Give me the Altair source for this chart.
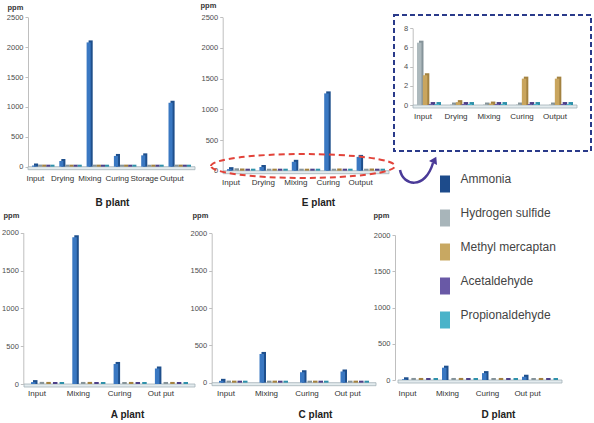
import altair as alt
import pandas as pd

# ---------------------------------------------------------------- data
compounds = ["Ammonia", "Hydrogen sulfide", "Methyl mercaptan",
             "Acetaldehyde", "Propionaldehyde"]
face_colors = ["#3a78c2", "#adb9bd", "#c9a55e", "#6a5aa8", "#49b2ca"]
side_colors = ["#1e4f8c", "#86949a", "#a38240", "#4d4088", "#2f91aa"]
legend_colors = ["#1d4b8b", "#a8b5ba", "#c8a862", "#6959a6", "#4ab3c9"]

ticks_large = [0, 500, 1000, 1500, 2000, 2500]
ticks_mid = [0, 500, 1000, 1500, 2000]
ticks_small = [0, 2, 4, 6, 8]

# B plant
b_stages = ["Input", "Drying", "Mixing", "Curing", "Storage", "Output"]
b_ammonia = [20, 95, 2080, 180, 190, 1070]
b_hydrogen_sulfide = [2.0, 0.4, 0.8, 0.5, 0.4, 0.9]
b_methyl_mercaptan = [1.5, 0.5, 1.0, 1.2, 0.6, 1.1]
b_acetaldehyde = [0.3, 0.2, 0.2, 0.2, 0.2, 0.3]
b_propionaldehyde = [0.2, 0.1, 0.1, 0.1, 0.1, 0.2]

# E plant
e_stages = ["Input", "Drying", "Mixing", "Curing", "Output"]
e_ammonia = [25, 60, 145, 1260, 225]
e_hydrogen_sulfide = [6.5, 0.05, 0.05, 0.05, 0.05]
e_methyl_mercaptan = [3.1, 0.3, 0.15, 2.75, 2.75]
e_acetaldehyde = [0.1, 0.1, 0.1, 0.1, 0.1]
e_propionaldehyde = [0.1, 0.1, 0.1, 0.1, 0.1]

# A plant
a_stages = ["Input", "Mixing", "Curing", "Out put"]
a_ammonia = [25, 1940, 265, 205]
a_hydrogen_sulfide = [1.5, 0.8, 0.4, 0.5]
a_methyl_mercaptan = [1.0, 1.2, 0.9, 0.8]
a_acetaldehyde = [0.3, 0.2, 0.2, 0.2]
a_propionaldehyde = [0.2, 0.1, 0.1, 0.1]

# C plant
c_stages = ["Input", "Mixing", "Curing", "Out put"]
c_ammonia = [25, 385, 140, 150]
c_hydrogen_sulfide = [1.2, 0.6, 0.3, 0.4]
c_methyl_mercaptan = [0.9, 1.0, 0.7, 0.8]
c_acetaldehyde = [0.3, 0.2, 0.2, 0.2]
c_propionaldehyde = [0.2, 0.1, 0.1, 0.1]

# D plant
d_stages = ["Input", "Mixing", "Curing", "Out put"]
d_ammonia = [10, 170, 95, 45]
d_hydrogen_sulfide = [0.8, 0.5, 0.3, 0.3]
d_methyl_mercaptan = [0.6, 0.9, 0.6, 0.5]
d_acetaldehyde = [0.2, 0.2, 0.1, 0.1]
d_propionaldehyde = [0.1, 0.1, 0.1, 0.1]

# ---------------------------------------------------------------- layout
# grid cells in page pixels
GRID_LEFT = [20, 211, 393]
GRID_WIDTH = [191, 182, 201]
GRID_TOP = [14, 232]
GRID_HEIGHT = [218, 191]
DEPTH = 2      # pseudo-3D depth of the bar side faces
BAR = 4.5      # front face width of a bar
FLOOR = 3      # thickness of the floor strip

FACE = dict(zip(compounds, face_colors))
SIDE = dict(zip(compounds, side_colors))

ELLIPSE = ("M-1,0C-1,-0.0718 -0.5523,-0.13 0,-0.13C0.5523,-0.13 1,-0.0718 1,0"
           "C1,0.0718 0.5523,0.13 0,0.13C-0.5523,0.13 -1,0.0718 -1,0Z")
ARROW_CURVE = "M-0.944,-0.111C-0.778,0.778 0.444,1.0 0.889,-0.5"
ARROW_HEAD = "M1.072,-0.844L1.111,-0.383L0.667,-0.617Z"
SWATCH = "M-0.59,-1L0.59,-1L0.59,1L-0.59,1Z"

one_row = pd.DataFrame({"ppm": [0]})


def long_table(stages, names, series):
    rows = [{"stage": s, "compound": c, "ppm": v}
            for c, values in zip(names, series)
            for s, v in zip(stages, values)]
    return pd.DataFrame(rows)


def plant_panel(stages, names, series, cell, frame, ymax, ticks, labels,
                ppm=None, title=None, extras=()):
    col, row = cell
    ox, oy = GRID_LEFT[col], GRID_TOP[row]
    W, H = GRID_WIDTH[col], GRID_HEIGHT[row]
    axis_x, r0, r1, step, first, y0, ytop = frame
    label_shift, label_pad = labels
    n, m = len(stages), len(names)
    po = (first - r0) / step
    pi = n + 2 * po - (r1 - r0) / step
    bw = step * (1 - pi)
    bar = min(BAR, bw / m)
    p_off = max(0.0, (bw - bar * m) / (bw - bar))

    x_front = alt.Scale(domain=stages, range=[r0 - ox, r1 - ox],
                        paddingInner=pi, paddingOuter=po)
    x_back = alt.Scale(domain=stages, range=[r0 - ox + DEPTH, r1 - ox + DEPTH],
                       paddingInner=pi, paddingOuter=po)
    x_off = alt.Scale(domain=names, range=[0, bw], paddingInner=p_off,
                      paddingOuter=0)
    y_sc = alt.Scale(domain=[0, ymax], range=[y0 - oy, ytop - oy],
                     nice=False, zero=True)

    if ppm is not None:
        ppm_kw = dict(title="ppm", titleAngle=0, titleX=ppm[0] - axis_x,
                      titleY=ppm[1] - oy, titleAlign="left",
                      titleBaseline="middle", titleFontSize=7.5,
                      titleFontWeight="bold", titleColor="#333333")
    else:
        ppm_kw = dict(title=None)
    if title is not None:
        title_kw = dict(title=title[0], titleX=title[1] - ox,
                        titleY=title[2] - y0, titleAlign="center",
                        titleBaseline="middle", titleFontSize=10,
                        titleFontWeight="bold", titleColor="#222222")
    else:
        title_kw = dict(title=None)

    y_axis = alt.Axis(values=ticks, format="d", orient="left",
                      offset=ox - axis_x, grid=False,
                      domainColor="#bfbfbf", tickColor="#bfbfbf", tickSize=3,
                      labelFontSize=7.5, labelColor="#4d4d4d", labelPadding=2,
                      **ppm_kw)
    x_axis = alt.Axis(orient="bottom", offset=(y0 - oy) - H, domain=False,
                      ticks=False, labelAngle=0, labelOverlap=False,
                      labelFontSize=8, labelColor="#333333",
                      labelPadding=label_pad, labelOffset=label_shift - bw / 2,
                      **title_kw)

    df = long_table(stages, names, series)
    floor = alt.Chart(one_row).mark_rect(
        fill="#e3ebee", stroke="#a3b1b8", strokeWidth=0.8
    ).encode(
        x=alt.value(r0 - ox), x2=alt.value(r1 - ox + DEPTH),
        y=alt.Y("ppm:Q", scale=y_sc, axis=None),
        y2=alt.value(y0 - oy + FLOOR),
    )
    # side/top faces: shifted right and up, still standing on the floor
    back = alt.Chart(df).mark_bar(yOffset=-DEPTH, y2Offset=0).encode(
        x=alt.X("stage:N", scale=x_back, axis=None),
        xOffset=alt.XOffset("compound:N", scale=x_off),
        y=alt.Y("ppm:Q", scale=y_sc, axis=None),
        y2=alt.datum(0),
        fill=alt.Fill("compound:N", legend=None,
                      scale=alt.Scale(domain=names,
                                      range=[SIDE[c] for c in names])),
    )
    front = alt.Chart(df).mark_bar().encode(
        x=alt.X("stage:N", scale=x_front, axis=x_axis),
        xOffset=alt.XOffset("compound:N", scale=x_off),
        y=alt.Y("ppm:Q", scale=y_sc, axis=y_axis),
        color=alt.Color("compound:N", legend=None,
                        scale=alt.Scale(domain=names,
                                        range=[FACE[c] for c in names])),
    )
    return alt.layer(floor, back, front, *extras).resolve_scale(
        x="independent", y="independent", xOffset="independent",
        color="independent", fill="independent",
    ).properties(width=W, height=H)


# ---------------------------------------------------------------- overlays
# red dashed ellipse around the E plant floor and the curved arrow
e_ox, e_oy = GRID_LEFT[1], GRID_TOP[0]
ellipse = alt.Chart(one_row).mark_point(
    shape=ELLIPSE, size=184 ** 2, filled=False, opacity=1,
    stroke="#e2433a", strokeWidth=2, strokeDash=[6, 4],
).encode(x=alt.value(303 - e_ox), y=alt.value(166 - e_oy))
arrow_curve = alt.Chart(one_row).mark_point(
    shape=ARROW_CURVE, size=36 ** 2, filled=False, opacity=1,
    stroke="#4a3a98", strokeWidth=2.5,
).encode(x=alt.value(417 - e_ox), y=alt.value(172 - e_oy))
arrow_head = alt.Chart(one_row).mark_point(
    shape=ARROW_HEAD, size=36 ** 2, filled=True, opacity=1,
    fill="#4a3a98", strokeWidth=0,
).encode(x=alt.value(417 - e_ox), y=alt.value(172 - e_oy))

# dashed frame of the enlarged view
i_ox, i_oy = GRID_LEFT[2], GRID_TOP[0]
inset_box = alt.Chart(one_row).mark_rect(
    fillOpacity=0, stroke="#2a3a8a", strokeWidth=2, strokeDash=[5, 3],
).encode(x=alt.value(394 - i_ox), x2=alt.value(591 - i_ox),
         y=alt.value(15 - i_oy), y2=alt.value(151 - i_oy))

# compound key
d_ox, d_oy = GRID_LEFT[2], GRID_TOP[1]
legend_df = pd.DataFrame({"compound": compounds})
legend_y = alt.Y("compound:N", axis=None,
                 scale=alt.Scale(type="point", domain=compounds,
                                 range=[184 - d_oy, 320 - d_oy], padding=0))
legend_swatch = alt.Chart(legend_df).mark_point(
    shape=SWATCH, size=17 ** 2, filled=True, opacity=1, strokeWidth=0,
).encode(
    x=alt.value(445 - d_ox), y=legend_y,
    color=alt.Color("compound:N", legend=None,
                    scale=alt.Scale(domain=compounds, range=legend_colors)),
)
legend_text = alt.Chart(legend_df).mark_text(
    align="left", baseline="middle", dy=-5.5, fontSize=12, color="#444444",
).encode(x=alt.value(460.5 - d_ox), y=legend_y, text="compound:N")

# ---------------------------------------------------------------- panels
panel_b = plant_panel(
    b_stages, compounds,
    [b_ammonia, b_hydrogen_sulfide, b_methyl_mercaptan, b_acetaldehyde,
     b_propionaldehyde],
    (0, 0), (28, 28, 193, 27.3, 32, 166.7, 17.3), 2500, ticks_large,
    (3.3, 8), ppm=(7, 7), title=("B plant", 112, 202))

panel_e = plant_panel(
    e_stages, compounds,
    [e_ammonia, e_hydrogen_sulfide, e_methyl_mercaptan, e_acetaldehyde,
     e_propionaldehyde],
    (1, 0), (222.7, 223, 387, 32.4, 227, 170.7, 17.3), 2500, ticks_large,
    (4, 7.5), ppm=(200, 5), title=("E plant", 318, 202),
    extras=(ellipse, arrow_curve, arrow_head))

panel_inset = plant_panel(
    e_stages, compounds[1:],
    [e_hydrogen_sulfide, e_methyl_mercaptan, e_acetaldehyde,
     e_propionaldehyde],
    (2, 0), (412.7, 413, 575, 33, 417, 105, 28.3), 8, ticks_small,
    (6, 7), extras=(inset_box,))

panel_a = plant_panel(
    a_stages, compounds,
    [a_ammonia, a_hydrogen_sulfide, a_methyl_mercaptan, a_acetaldehyde,
     a_propionaldehyde],
    (0, 1), (23.3, 24, 193, 41.3, 31, 384, 232.7), 2000, ticks_mid,
    (6, 5.5), ppm=(3, 215), title=("A plant", 127, 414))

panel_c = plant_panel(
    c_stages, compounds,
    [c_ammonia, c_hydrogen_sulfide, c_methyl_mercaptan, c_acetaldehyde,
     c_propionaldehyde],
    (1, 1), (211.7, 212, 374, 40.5, 219, 382.7, 233.3), 2000, ticks_mid,
    (7, 7), ppm=(192, 215), title=("C plant", 315, 414))

panel_d = plant_panel(
    d_stages, compounds,
    [d_ammonia, d_hydrogen_sulfide, d_methyl_mercaptan, d_acetaldehyde,
     d_propionaldehyde],
    (2, 1), (395, 398, 560, 40, 402, 380, 235), 2000, ticks_mid,
    (5.5, 9.5), ppm=(373, 215), title=("D plant", 498, 414),
    extras=(legend_swatch, legend_text))

chart = alt.concat(
    panel_b, panel_e, panel_inset, panel_a, panel_c, panel_d,
    columns=3, spacing=0, bounds="flush",
).properties(
    padding={"left": GRID_LEFT[0], "top": GRID_TOP[0],
             "right": 594 - GRID_LEFT[0], "bottom": 423 - GRID_TOP[0]},
    autosize=alt.AutoSizeParams(type="none"),
    background="white",
).configure(font="Liberation Sans").configure_view(strokeWidth=0)

chart.save("out.html", embed_options={"renderer": "svg", "actions": False})
